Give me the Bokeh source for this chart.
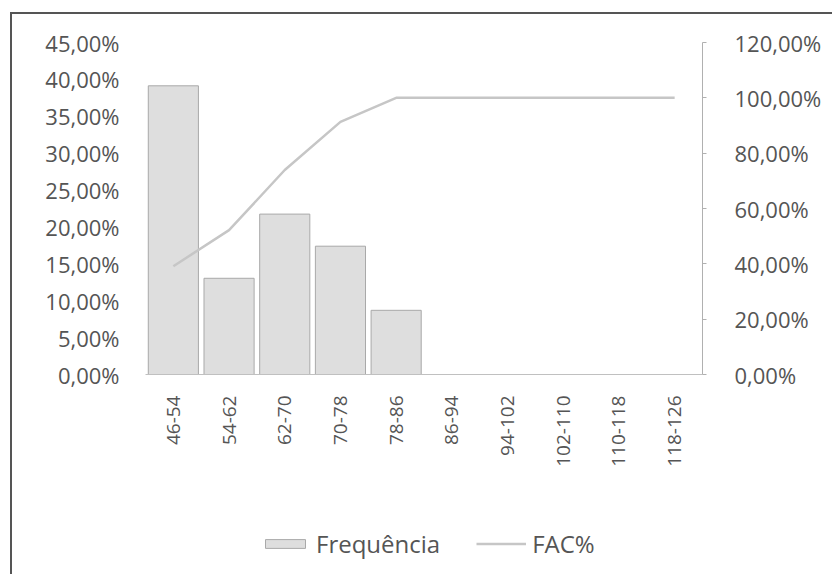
import math
from bokeh.plotting import figure
from bokeh.layouts import column
from bokeh.models import (Range1d, FactorRange, LinearAxis, FixedTicker,
                          CustomJSTickFormatter, Legend, LegendItem, ColumnDataSource)
from bokeh.embed import file_html
from bokeh.resources import INLINE

# ---- data ----
classes = ["46-54", "54-62", "62-70", "70-78", "78-86",
           "86-94", "94-102", "102-110", "110-118", "118-126"]
frequencia = [39.13, 13.04, 21.74, 17.39, 8.70, 0, 0, 0, 0, 0]      # %
fac = [39.13, 52.17, 73.91, 91.30, 100, 100, 100, 100, 100, 100]     # %
left_ticks = [0, 5, 10, 15, 20, 25, 30, 35, 40, 45]
right_ticks = [0, 20, 40, 60, 80, 100, 120]
series_names = ["Frequência", "FAC%"]

FONT = "Open Sans"
TXT = "#555555"
BAR_FILL, BAR_LINE = "#dedede", "#a9a9a9"
LINE_COLOR = "#c6c6c6"

src = ColumnDataSource(dict(cls=classes, freq=frequencia, fac=fac))

p = figure(width=820, height=460, output_backend="svg", toolbar_location=None,
           x_range=FactorRange(*classes, range_padding=0),
           y_range=Range1d(0, 45),
           min_border_left=133, min_border_right=130,
           min_border_top=28, min_border_bottom=100)
p.extra_y_ranges = {"fac": Range1d(0, 120)}
p.outline_line_color = None
p.xgrid.grid_line_color = None
p.ygrid.grid_line_color = None
p.background_fill_color = "white"
p.border_fill_color = "white"

fmt = CustomJSTickFormatter(code="return tick.toFixed(2).replace('.', ',') + '%';")

p.vbar(x="cls", top="freq", width=0.9, source=src,
       fill_color=BAR_FILL, line_color=BAR_LINE, line_width=1)
p.line(x="cls", y="fac", source=src, y_range_name="fac",
       line_color=LINE_COLOR, line_width=2.5)

# left axis
ya = p.yaxis[0]
ya.ticker = FixedTicker(ticks=left_ticks)
ya.formatter = fmt
ya.axis_line_color = None
ya.major_tick_line_color = None
ya.minor_tick_line_color = None
ya.major_label_standoff = 20
ya.major_label_text_font = FONT
ya.major_label_text_font_size = "22px"
ya.major_label_text_color = TXT

# right axis
ra = LinearAxis(y_range_name="fac", ticker=FixedTicker(ticks=right_ticks), formatter=fmt)
ra.axis_line_color = "#b0b0b0"
ra.major_tick_line_color = "#b0b0b0"
ra.major_tick_in = 0
ra.major_tick_out = 4
ra.minor_tick_line_color = None
ra.major_label_standoff = 28
ra.major_label_text_font = FONT
ra.major_label_text_font_size = "22px"
ra.major_label_text_color = TXT
p.add_layout(ra, "right")

# x axis
xa = p.xaxis[0]
xa.axis_line_color = "#c0c0c0"
xa.major_tick_line_color = None
xa.minor_tick_line_color = None
xa.major_label_orientation = math.pi / 2
xa.major_label_standoff = 15
xa.major_label_text_font = FONT
xa.major_label_text_font_size = "19px"
xa.major_label_text_color = TXT

# legend strip below the chart (key swatches use off-screen stand-in renderers)
lg = figure(width=820, height=100, output_backend="svg", toolbar_location=None,
            x_range=Range1d(0, 1), y_range=Range1d(0, 1),
            x_axis_type=None, y_axis_type=None, min_border=0)
lg.outline_line_color = None
lg.grid.grid_line_color = None
lg.border_fill_color = "white"
key_src = ColumnDataSource(dict(x=[-5, -4], y=[-5, -5]))
r_bar = lg.vbar(x="x", top="y", width=0.9, source=key_src,
                fill_color=BAR_FILL, line_color=BAR_LINE)
r_line = lg.line(x="x", y="y", source=key_src, line_color=LINE_COLOR, line_width=2.5)
legend = Legend(items=[LegendItem(label=series_names[0], renderers=[r_bar]),
                       LegendItem(label=series_names[1], renderers=[r_line])],
                orientation="horizontal", location=(115, 14),
                glyph_width=50, glyph_height=11, label_standoff=6, spacing=36,
                padding=0, margin=0, border_line_color=None,
                background_fill_alpha=0,
                label_text_font=FONT, label_text_font_size="24px",
                label_text_color=TXT)
lg.add_layout(legend, "center")

layout = column(p, lg, spacing=0,
                styles={"border-left": "2px solid #555555",
                        "border-top": "2px solid #555555",
                        "margin-left": "10px", "margin-top": "12px"})

open("out.html", "w").write(file_html(layout, INLINE))
